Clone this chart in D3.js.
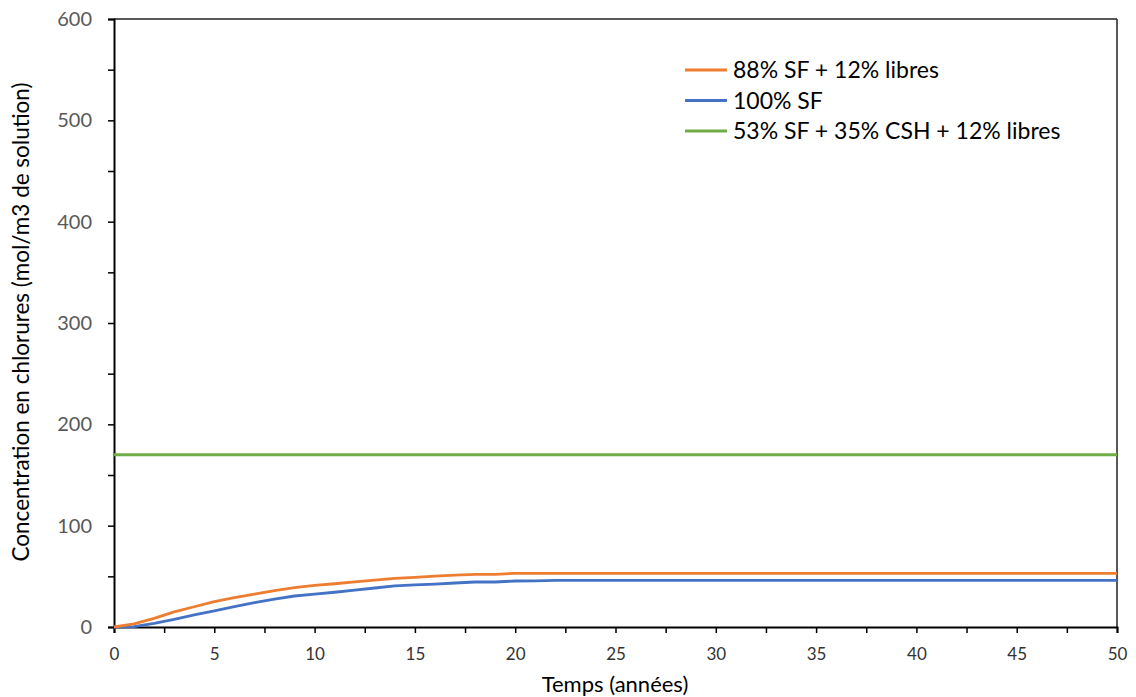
<!DOCTYPE html>
<html><head><meta charset="utf-8">
<script src="https://cdn.jsdelivr.net/npm/d3@7"></script>
<style>body{margin:0;background:#fff;} text{font-family:Lato,"Open Sans",sans-serif;}</style>
</head><body><svg id="c" width="1136" height="697"></svg>
<script>
const years = [0,1,2,3,4,5,6,7,8,9,10,11,12,13,14,15,16,17,18,19,20,21,22,25,30,35,40,45,50];
const sfLibres = [0,3,8.5,15,20,25,29,32.5,36,38.8,41,42.7,44.5,46.3,48,49,50.2,51.2,52,52,53,53,53,53,53,53,53,53,53];
const sf100 = [0,0.3,3.6,7.6,12,16,20,24,27.5,30.6,32.5,34.3,36.3,38.5,40.5,41.5,42.4,43.4,44.4,44.4,45.4,45.5,46,46,46,46,46,46,46];
const mixGreen = [170,170];
const greenYears = [0,50];
const seriesNames = ["88% SF + 12% libres","100% SF","53% SF + 35% CSH + 12% libres"];
const colors = ["#ED7D31","#4472C4","#70AD47"];
const xTicks = [0,5,10,15,20,25,30,35,40,45,50];
const yTicks = [0,100,200,300,400,500,600];

const svg = d3.select("#c");
const L=114,R=1117,T=19,B=627;
const x = d3.scaleLinear().domain([0,50]).range([L,R]);
const y = d3.scaleLinear().domain([0,600]).range([B,T]);

// frame top/right
svg.append("line").attr("x1",L).attr("x2",R).attr("y1",T).attr("y2",T).attr("stroke","#222").attr("stroke-width",1.5);
svg.append("line").attr("x1",R).attr("x2",R).attr("y1",T).attr("y2",B).attr("stroke","#222").attr("stroke-width",1.5);

// y axis
const ya = svg.append("g").attr("transform",`translate(${L},0)`)
  .call(d3.axisLeft(y).tickValues(d3.range(0,601,50)).tickSize(6).tickFormat(d=>yTicks.includes(d)?d:""));
ya.select(".domain").attr("stroke","#000").attr("stroke-width",2);
ya.selectAll(".tick line").attr("stroke","#000").attr("stroke-width",1.5);
ya.selectAll(".tick text").attr("fill","#595959").style("font-size","20px").attr("x",-22);

// x axis
const xa = svg.append("g").attr("transform",`translate(0,${B})`)
  .call(d3.axisBottom(x).tickValues(d3.range(0,50.1,2.5)).tickSize(6).tickFormat(d=>xTicks.includes(d)?d:""));
xa.select(".domain").attr("stroke","#000").attr("stroke-width",2);
xa.selectAll(".tick line").attr("stroke","#000").attr("stroke-width",1.5);
xa.selectAll(".tick text").attr("fill","#333").style("font-size","17px").attr("y",33).attr("dy","0");

const line = d3.line().x(d=>x(d[0])).y(d=>y(d[1]));
const data = [
  d3.zip(years,sfLibres),
  d3.zip(years,sf100),
  d3.zip(greenYears,mixGreen)
];
[2,1,0].forEach(i=>{
  svg.append("path").datum(data[i]).attr("d",line).attr("fill","none")
    .attr("stroke",colors[i]).attr("stroke-width",2.8).attr("stroke-linejoin","round");
});

// legend
seriesNames.forEach((n,i)=>{
  const yy = 70 + i*30.5;
  svg.append("line").attr("x1",685).attr("x2",727).attr("y1",yy).attr("y2",yy).attr("stroke",colors[i]).attr("stroke-width",3);
  svg.append("text").attr("x",733).attr("y",yy).attr("dy","0.35em").style("font-size","23px").attr("fill","#000").text(n);
});

// axis titles
svg.append("text").attr("x",615).attr("y",692).attr("text-anchor","middle").style("font-size","22px").attr("fill","#000").text("Temps (années)");
svg.append("text").attr("transform","translate(29,322) rotate(-90)").attr("text-anchor","middle").style("font-size","22.5px").attr("fill","#000").text("Concentration en chlorures (mol/m3 de solution)");
</script></body></html>
